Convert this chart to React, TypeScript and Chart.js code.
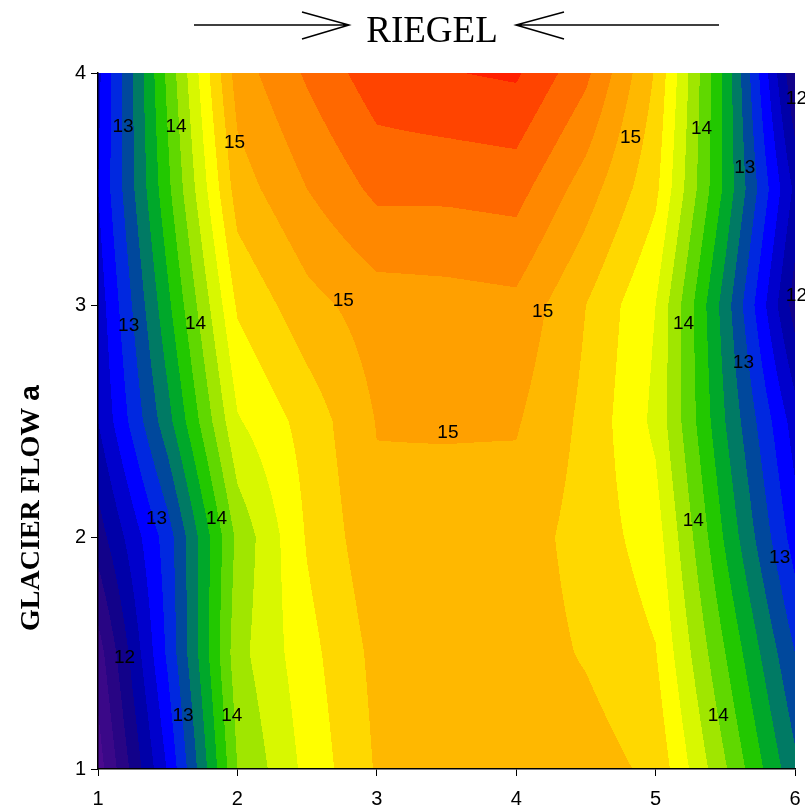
import React, { useEffect, useRef } from 'react';
import { Chart, registerables } from 'chart.js';
Chart.register(...registerables);

// Grid of the surface (x = RIEGEL position, y = GLACIER FLOW a)
const gridX = [1, 1.5, 2, 2.5, 3, 3.5, 4, 4.5, 5, 5.5, 6];
const gridY = [1, 1.5, 2, 2.5, 3, 3.5, 4];
const rowY1 = [11.5, 12.62, 14.0, 14.46, 14.82, 14.88, 14.9, 14.9, 14.75, 14.02, 13.25];
const rowY1_5 = [11.7, 12.84, 14.13, 14.53, 14.86, 14.9, 14.9, 14.78, 14.61, 13.8, 13.0];
const rowY2 = [12.1, 12.9, 14.05, 14.62, 14.95, 14.92, 14.9, 14.72, 14.5, 13.57, 12.7];
const rowY2_5 = [12.4, 13.33, 14.38, 14.68, 15.01, 15.02, 15.02, 14.75, 14.35, 13.4, 12.5];
const rowY3 = [12.48, 13.55, 14.63, 14.93, 15.1, 15.12, 15.15, 14.8, 14.4, 13.3, 12.1];
const rowY3_5 = [12.6, 13.75, 14.9, 15.2, 15.45, 15.45, 15.48, 15.1, 14.65, 13.55, 12.35];
const rowY4 = [12.55, 13.85, 15.1, 15.43, 15.72, 15.79, 15.83, 15.45, 14.78, 13.55, 12.0];
const gridZ = [rowY1, rowY1_5, rowY2, rowY2_5, rowY3, rowY3_5, rowY4];

const contourLevels = [11.6, 11.8, 12.0, 12.2, 12.4, 12.6, 12.8, 13.0, 13.2, 13.4, 13.6, 13.8, 14.0, 14.2, 14.4, 14.6, 14.8, 15.0, 15.2, 15.4, 15.6, 15.8];
const bandColors = [
  '#4a0a8e', '#3a0888', '#280584', '#12028a', '#0000a8', '#0000cc', '#0000ff', '#0028e0',
  '#00489c', '#007a64', '#00a82a', '#22c800', '#60d800', '#a0e600', '#d8f800', '#ffff00',
  '#ffd800', '#ffb800', '#ffa000', '#ff8800', '#ff6800', '#ff4400', '#ff2000'
];

const xTicks = [1, 2, 3, 4, 5, 6];
const yTicks = [1, 2, 3, 4];

const labelText = ['13', '14', '15', '15', '14', '12', '13', '15', '15', '13', '14', '14', '12', '13', '15', '13', '14', '14', '13', '12', '13', '14', '14'];
const labelX = [1.18, 1.56, 1.98, 4.82, 5.33, 6.01, 5.64, 2.76, 4.19, 1.22, 1.70, 5.20, 6.01, 5.63, 3.51, 1.42, 1.85, 5.27, 5.89, 1.19, 1.61, 1.96, 5.45];
const labelY = [3.77, 3.77, 3.70, 3.72, 3.76, 3.89, 3.59, 3.02, 2.97, 2.91, 2.92, 2.92, 3.04, 2.75, 2.45, 2.08, 2.08, 2.07, 1.91, 1.48, 1.23, 1.23, 1.23];

const titleText = 'RIEGEL';
const yTitleMain = 'GLACIER FLOW ';
const yTitleSymbol = 'a';

function hexToRgb(h: string) {
  const n = parseInt(h.slice(1), 16);
  return [(n >> 16) & 255, (n >> 8) & 255, n & 255];
}

function findCell(arr: number[], v: number) {
  if (v <= arr[0]) return [0, 0];
  const last = arr.length - 1;
  if (v >= arr[last]) return [last - 1, 1];
  for (let i = 0; i < last; i++) {
    if (v >= arr[i] && v <= arr[i + 1]) return [i, (v - arr[i]) / (arr[i + 1] - arr[i])];
  }
  return [last - 1, 1];
}

function surface(x: number, y: number) {
  const [i, tx] = findCell(gridX, x);
  const [j, ty] = findCell(gridY, y);
  const z00 = gridZ[j][i], z10 = gridZ[j][i + 1], z01 = gridZ[j + 1][i], z11 = gridZ[j + 1][i + 1];
  return (z00 * (1 - tx) + z10 * tx) * (1 - ty) + (z01 * (1 - tx) + z11 * tx) * ty;
}

const contourPlugin = {
  id: 'contourFill',
  beforeDraw(chart: any) {
    const { ctx, chartArea: a, scales } = chart;
    const xs = scales.x, ys = scales.y;
    const left = Math.round(a.left), top = Math.round(a.top);
    const w = Math.round(a.right) - left, h = Math.round(a.bottom) - top;
    const img = ctx.createImageData(w, h);
    const rgb = bandColors.map(hexToRgb);
    const xv = new Array(w);
    for (let i = 0; i < w; i++) xv[i] = xs.getValueForPixel(left + i + 0.5);
    for (let j = 0; j < h; j++) {
      const yv = ys.getValueForPixel(top + j + 0.5);
      for (let i = 0; i < w; i++) {
        const z = surface(xv[i], yv);
        let b = 0;
        while (b < contourLevels.length && z >= contourLevels[b]) b++;
        const c = rgb[b];
        const k = (j * w + i) * 4;
        img.data[k] = c[0]; img.data[k + 1] = c[1]; img.data[k + 2] = c[2]; img.data[k + 3] = 255;
      }
    }
    ctx.putImageData(img, left, top);
  }
};

const decorPlugin = {
  id: 'decor',
  afterDraw(chart: any) {
    const { ctx, scales } = chart;
    ctx.save();
    // contour labels
    ctx.fillStyle = '#000';
    ctx.font = '19px "Liberation Sans", Arial, sans-serif';
    ctx.textAlign = 'center';
    ctx.textBaseline = 'middle';
    for (let i = 0; i < labelText.length; i++) {
      ctx.fillText(labelText[i], scales.x.getPixelForValue(labelX[i]), scales.y.getPixelForValue(labelY[i]));
    }
    // top title with arrows
    ctx.font = '37px "Liberation Serif", "Times New Roman", serif';
    ctx.textBaseline = 'alphabetic';
    ctx.fillText(titleText, 432, 42);
    ctx.strokeStyle = '#000';
    ctx.lineWidth = 1.5;
    ctx.beginPath();
    ctx.moveTo(194, 25); ctx.lineTo(349, 25);
    ctx.moveTo(302, 12); ctx.lineTo(349, 25); ctx.lineTo(302, 39);
    ctx.moveTo(516, 25); ctx.lineTo(719, 25);
    ctx.moveTo(564, 12); ctx.lineTo(516, 25); ctx.lineTo(564, 39);
    ctx.stroke();
    // y title
    ctx.translate(39, 508);
    ctx.rotate(-Math.PI / 2);
    const f1 = 'bold 28px "Liberation Serif", "Times New Roman", serif';
    const f2 = 'bold 28px "Liberation Sans", Arial, sans-serif';
    ctx.font = f1;
    const w1 = ctx.measureText(yTitleMain).width;
    ctx.font = f2;
    const w2 = ctx.measureText(yTitleSymbol).width;
    const start = -(w1 + w2) / 2;
    ctx.textAlign = 'left';
    ctx.font = f1;
    ctx.fillText(yTitleMain, start, 0);
    ctx.font = f2;
    ctx.fillText(yTitleSymbol, start + w1, 0);
    ctx.restore();
  }
};

export default function App() {
  const ref = useRef<HTMLCanvasElement>(null);
  useEffect(() => {
    const pts: { x: number; y: number }[] = [];
    gridY.forEach((y) => gridX.forEach((x) => pts.push({ x, y })));
    const tickFont = { family: '"Liberation Sans", Arial, sans-serif', size: 20 };
    const chart = new Chart(ref.current as HTMLCanvasElement, {
      type: 'scatter',
      data: { datasets: [{ data: pts, pointRadius: 0, pointHoverRadius: 0 }] },
      options: {
        responsive: false,
        animation: false,
        events: [],
        layout: { padding: { top: 73, right: 10, left: 0, bottom: 0 } },
        plugins: { legend: { display: false }, tooltip: { enabled: false } },
        scales: {
          x: {
            type: 'linear', min: 1, max: 6,
            afterBuildTicks: (s: any) => { s.ticks = xTicks.map((v) => ({ value: v })); },
            afterFit: (s: any) => { s.height = 40; s.paddingLeft = 0; s.paddingRight = 0; },
            ticks: { color: '#000', font: tickFont, padding: 11, maxRotation: 0 },
            grid: { drawOnChartArea: false, drawTicks: true, tickLength: 7, color: '#000', tickColor: '#000' },
            border: { display: true, color: '#000', width: 1.5 }
          },
          y: {
            type: 'linear', min: 1, max: 4,
            afterBuildTicks: (s: any) => { s.ticks = yTicks.map((v) => ({ value: v })); },
            afterFit: (s: any) => { s.width = 98; s.paddingTop = 0; s.paddingBottom = 0; },
            ticks: { color: '#000', font: tickFont, padding: 5 },
            grid: { drawOnChartArea: false, drawTicks: true, tickLength: 7, color: '#000', tickColor: '#000' },
            border: { display: true, color: '#000', width: 1.5 }
          }
        }
      },
      plugins: [contourPlugin, decorPlugin]
    });
    return () => chart.destroy();
  }, []);
  return (
    <div style={{ position: 'absolute', left: 0, top: 0, width: 805, height: 809, background: '#fff' }}>
      <canvas ref={ref} width={805} height={809} style={{ display: 'block' }} />
    </div>
  );
}
